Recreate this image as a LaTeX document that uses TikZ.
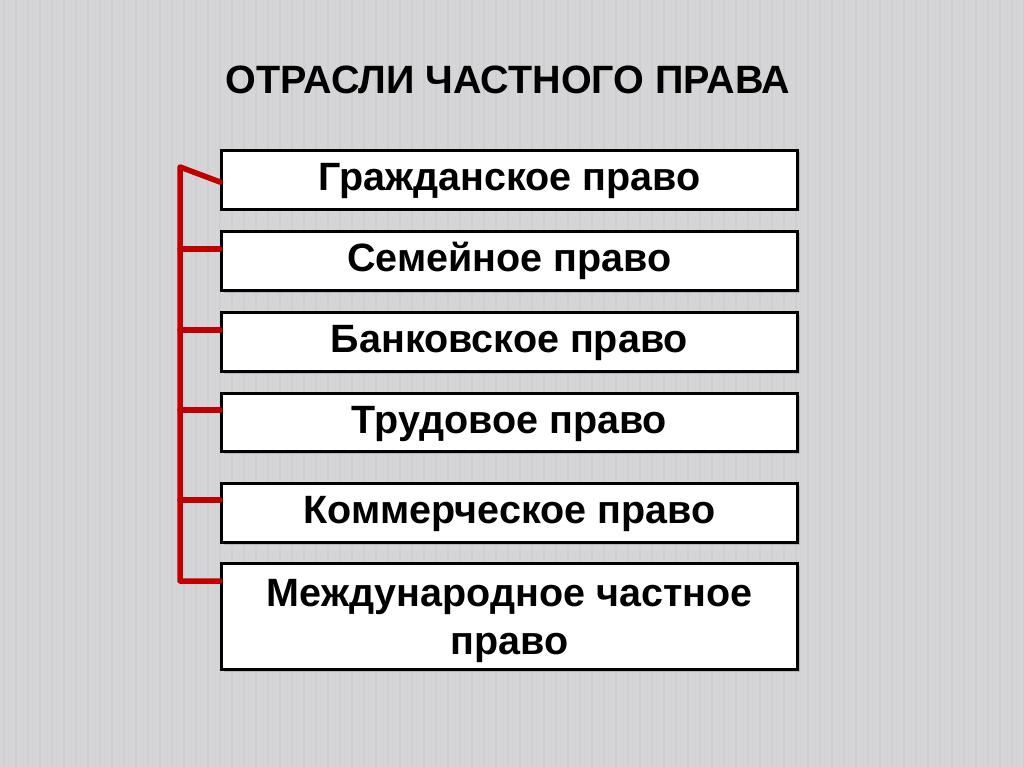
\documentclass[tikz,border=0pt]{standalone}
\usepackage{fontspec}
\setmainfont{Liberation Sans}
\usetikzlibrary{shadows}
\definecolor{bg}{HTML}{D5D5D7}
\definecolor{stripe}{HTML}{CACACC}
\definecolor{brk}{HTML}{C00000}
\tikzset{
  law/.style={draw=black, line width=3pt, fill=white, minimum width=576pt, anchor=north west,
    align=center, font=\bfseries\fontsize{39.5}{48}\selectfont, inner sep=0pt,
    text height=30pt, text depth=9pt,
    drop shadow={shadow xshift=2pt, shadow yshift=-2pt, opacity=0.35}},
  bracket/.style={draw=brk, line width=5.5pt, line cap=round, line join=round}
}
\begin{document}
\begin{tikzpicture}[x=1pt,y=-1pt]
\useasboundingbox (0,0) rectangle (1024,767);
\fill[bg] (0,0) rectangle (1024,767);
\foreach \i in {0,...,85} {
  \fill[stripe,opacity=0.5] (\i*12+3,0) rectangle (\i*12+5,767);
}
\node[font=\bfseries\fontsize{39.5}{44}\selectfont, anchor=base] (title) at (508,94) {ОТРАСЛИ ЧАСТНОГО ПРАВА};
\node[law, minimum height=59pt] (b1) at (220,149) {Гражданское право};
\node[law, minimum height=59pt] (b2) at (220,230) {Семейное право};
\node[law, minimum height=59pt] (b3) at (220,311) {Банковское право};
\node[law, minimum height=58pt] (b4) at (220,392) {Трудовое право};
\node[law, minimum height=59pt] (b5) at (220,482) {Коммерческое право};
\node[law, minimum height=106pt, text height=84pt, text depth=8pt] (b6) at (220,562) {Международное частное\\право};
\coordinate (top) at (180,167);
\coordinate (bot) at (180,581);
\draw[bracket] ([yshift=-2pt]b1.west) -- (top) -- (bot) -- (b6.west |- bot);
\draw[bracket] (b2.west |- 0,249) -- (top |- 0,249);
\draw[bracket] (b3.west |- 0,330) -- (top |- 0,330);
\draw[bracket] (b4.west |- 0,410) -- (top |- 0,410);
\draw[bracket] (b5.west |- 0,500) -- (top |- 0,500);
\end{tikzpicture}
\end{document}
